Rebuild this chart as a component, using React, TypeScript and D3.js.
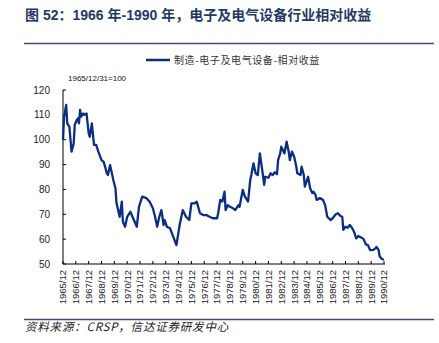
import React from "react";
import * as d3 from "d3";

const months: string[] = [
  "1965-12","1966-01","1966-03","1966-04","1966-06","1966-08","1966-10","1966-11",
  "1967-01","1967-02","1967-03","1967-04","1967-05","1967-07","1967-08","1967-10","1967-12",
  "1968-01","1968-03","1968-05","1968-07","1968-09","1968-12",
  "1969-02","1969-05","1969-06","1969-08","1969-11",
  "1970-01","1970-02","1970-05","1970-07","1970-08","1970-10","1970-12",
  "1971-03","1971-05","1971-07","1971-09","1971-11",
  "1972-02","1972-06","1972-09","1972-12",
  "1973-02","1973-04","1973-06","1973-08","1973-10","1973-11",
  "1974-01","1974-04","1974-07","1974-10",
  "1975-01","1975-04","1975-07","1975-10","1975-12",
  "1976-03","1976-05","1976-08","1976-11",
  "1977-02","1977-05","1977-08","1977-12",
  "1978-01","1978-03","1978-05","1978-07","1978-08","1978-10","1978-12",
  "1979-03","1979-05","1979-08","1979-09","1979-12",
  "1980-02","1980-04","1980-05","1980-07","1980-08","1980-10","1980-12",
  "1981-02","1981-04","1981-06","1981-08","1981-09","1981-12",
  "1982-02","1982-04","1982-06","1982-08","1982-09","1982-11","1982-12",
  "1983-03","1983-05","1983-07","1983-08","1983-10","1983-12",
  "1984-02","1984-03","1984-06","1984-07","1984-09","1984-10",
  "1985-01","1985-03","1985-05","1985-06","1985-08","1985-09","1985-12",
  "1986-03","1986-05","1986-07","1986-10","1986-12",
  "1987-03","1987-05","1987-07","1987-09","1987-10","1987-12",
  "1988-02","1988-04","1988-06","1988-08","1988-10","1988-12",
  "1989-03","1989-05","1989-07","1989-09","1989-11",
  "1990-02","1990-04","1990-05","1990-07","1990-08","1990-10","1990-12",
];

const values: number[] = [
  100, 109.3, 114, 106.6, 105.2, 95.2, 98.5, 106,
  108, 108.6, 106.6, 112, 109.3, 110.6, 110, 110.6, 102.6,
  101.2, 106.6, 97.9, 97.9, 95.2, 91.8,
  91.1, 86.5, 85.8, 89.8, 83.8,
  80.5, 74.4, 69, 75.1, 67, 65, 69,
  71, 69, 67, 65, 73,
  77.1, 76.5, 75, 72.4,
  69, 65, 69, 71.7, 65.7, 67.7,
  65, 64.4, 61, 57.6,
  65.7, 71.7, 69, 67.7, 74.4,
  74.4, 75.1, 70.4, 69.7,
  69.7, 69, 68.4, 68.4,
  70.4, 75.8, 75.1, 79.1, 71.7, 73.7, 73,
  72.4, 71.7, 73.7, 73, 79.8,
  77.1, 75.8, 75.1, 83.8, 85.8, 90.5, 86.5,
  85.8, 94.5, 88.5, 81.8, 85.1, 84.7,
  86.5, 85.8, 86.9, 86.1, 91.8, 94.5, 97.2,
  94.5, 99.2, 95.2, 91.8, 95.2, 93.2,
  89.2, 86.5, 85.8, 89.2, 85.8, 81.1,
  85.1, 80.5, 78.5, 79.1, 77.8, 75.8, 76.5,
  75.8, 73.7, 69, 67.7, 68.4,
  70, 70.4, 69.4, 69, 63.7, 65,
  64.6, 65.7, 64.6, 63, 60.3, 61.3,
  60.6, 60, 57.9, 57.6, 55.6,
  55.7, 56.3, 56.9, 55.6, 53, 52, 51.7,
];

const yTicks: number[] = [50, 60, 70, 80, 90, 100, 110, 120];
const tickYears: number[] = d3.range(1965, 1991);

const title = "图 52：1966 年-1990 年，电子及电气设备行业相对收益";
const legendLabel = "制造-电子及电气设备-相对收益";
const baseNote = "1965/12/31=100";
const source = "资料来源：CRSP，信达证券研发中心";

const parse = d3.timeParse("%Y-%m");

export default function App() {
  const W = 439, H = 343;
  const left = 63, right = 384, top = 90, bottom = 264;
  const x = d3.scaleTime()
    .domain([parse("1965-12") as Date, parse("1990-12") as Date])
    .range([left, right]);
  const y = d3.scaleLinear().domain([50, 120]).range([bottom, top]);
  const data = months.map((m, i) => ({ d: parse(m) as Date, v: values[i] }));
  const line = d3.line<{ d: Date; v: number }>().x(p => x(p.d)).y(p => y(p.v));
  const cjk = "'Noto Sans CJK SC', 'Noto Sans', sans-serif";
  const latin = "'Liberation Sans', Arial, 'Noto Sans CJK SC', sans-serif";
  const lineColor = "#0b2d83";
  return (
    <svg width={W} height={H} style={{ position: "absolute", left: 0, top: 0, background: "#fff" }}>
      <text x={25} y={20} fontFamily={latin} fontWeight="bold" fontSize={14} fill="#1f3a66">{title}</text>
      <line x1={24} x2={434} y1={43.5} y2={43.5} stroke="#3d4f6e" strokeWidth={1.5} />
      <line x1={146} x2={170} y1={60} y2={60} stroke={lineColor} strokeWidth={2.5} />
      <text x={174} y={64} fontFamily={cjk} fontSize={10} letterSpacing={0.6} fill="#333">{legendLabel}</text>
      <text x={68} y={81} fontFamily={latin} fontSize={8} fill="#111">{baseNote}</text>
      <line x1={left} x2={left} y1={top} y2={bottom} stroke="#000" strokeWidth={1} />
      <line x1={left} x2={right + 1} y1={bottom} y2={bottom} stroke="#000" strokeWidth={1} />
      {yTicks.map(t => (
        <g key={t}>
          <line x1={left} x2={left + 3} y1={y(t)} y2={y(t)} stroke="#000" />
          <text x={50} y={y(t) + 3.5} textAnchor="end" fontFamily={latin} fontSize={10} fill="#222">{t}</text>
        </g>
      ))}
      {tickYears.map(yr => {
        const xx = x(new Date(yr, 11, 1));
        return (
          <g key={yr}>
            <line x1={xx} x2={xx} y1={bottom} y2={bottom - 3} stroke="#000" />
            <text transform={`translate(${xx + 3.4},${bottom + 6}) rotate(-90)`} textAnchor="end"
              fontFamily={latin} fontSize={9.5} fill="#222">{`${yr}/12`}</text>
          </g>
        );
      })}
      <path d={line(data) || ""} fill="none" stroke={lineColor} strokeWidth={2.3} strokeLinejoin="round" />
      <line x1={24} x2={434} y1={319.5} y2={319.5} stroke="#3d4f6e" strokeWidth={1.5} />
      <text x={25} y={331} fontFamily={cjk} fontStyle="italic" fontSize={11.5} letterSpacing={0.8} fill="#222">{source}</text>
    </svg>
  );
}
